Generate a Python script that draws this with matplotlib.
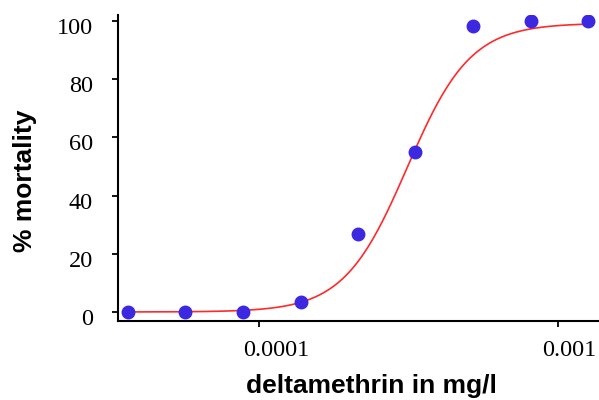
import numpy as np
import matplotlib.pyplot as plt
from matplotlib.transforms import ScaledTranslation

# observed mortality
dose = [3.65e-5, 5.66e-5, 8.84e-5, 1.38e-4, 2.14e-4, 3.33e-4, 5.2e-4, 8.13e-4, 1.26e-3]
mortality = [0, 0, 0, 3.4, 26.8, 55, 98.4, 100, 100]

# fitted dose-response (Hill) parameters
bottom = 0.0
top = 99.3
ec50 = 3.13e-4
hill = 4.1


def hill_curve(x):
    return bottom + (top - bottom) / (1 + (ec50 / x) ** hill)


fig = plt.figure(figsize=(5.99, 4.0), dpi=100)
ax = fig.add_axes([118/599, 1 - 321/400, 481/599, 306/400])

xfit = np.logspace(np.log10(dose[0]), np.log10(dose[-1]), 300)
ax.plot(xfit, hill_curve(xfit), color='#ff2a2a', lw=1.2, zorder=2)
ax.plot(dose, mortality, 'o', color='#3c28e0', ms=9, zorder=3)

ax.set_xscale('log')
ax.set_xlim(10**-4.4716, 10**-2.863)
ax.set_ylim(-3.1, 102.1)
ax.set_xticks([1e-4, 1e-3])
ax.set_xticklabels(['0.0001', '0.001'])
ax.minorticks_off()
ax.set_yticks([0, 20, 40, 60, 80, 100])

for s in ['top', 'right']:
    ax.spines[s].set_visible(False)
for s in ['left', 'bottom']:
    ax.spines[s].set_linewidth(1.5)
ax.tick_params(direction='out', length=4.6, width=1.3, labelsize=17.5)
ax.tick_params(axis='y', pad=13.5)
ax.tick_params(axis='x', pad=9)

# labels sit a little off their ticks in the original
for lab in ax.get_yticklabels():
    lab.set_family('Liberation Serif')
    lab.set_transform(lab.get_transform() + ScaledTranslation(0, -5/100, fig.dpi_scale_trans))
for lab in ax.get_xticklabels():
    lab.set_family('Liberation Serif')
    lab.set_horizontalalignment('left')
    lab.set_transform(lab.get_transform() + ScaledTranslation(-16/100, 0, fig.dpi_scale_trans))

fig.text(371/599, 1 - 393/400, 'deltamethrin in mg/l', ha='center', va='baseline',
         fontsize=19, fontweight='bold', family='Liberation Sans')
fig.text(25/599, 1 - 181/400, '% mortality', ha='center', va='center', rotation=90,
         fontsize=19, fontweight='bold', family='Liberation Sans')

fig.savefig('out.png', dpi=100)
